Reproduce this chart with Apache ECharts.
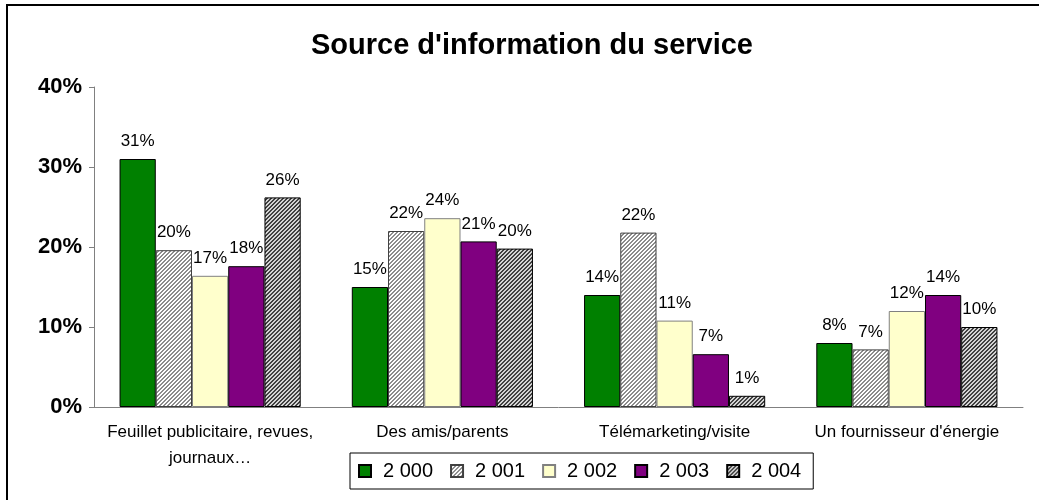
<!DOCTYPE html>
<html>
<head>
<meta charset="utf-8">
<script src="https://cdn.jsdelivr.net/npm/echarts@6/dist/echarts.min.js"></script>
<style>
  html, body { margin: 0; padding: 0; background: #fff; }
  #chart { width: 1039px; height: 500px; }
</style>
</head>
<body>
<div id="chart"></div>
<script>
// categories and values (percent)
const categories = ['Feuillet publicitaire, revues,\njournaux…', 'Des amis/parents', 'Télémarketing/visite', "Un fournisseur d'énergie"]
const years = ['2 000', '2 001', '2 002', '2 003', '2 004']
const v2000 = [31, 15, 14, 8]
const v2001 = [19.6, 22, 21.8, 7.2]
const v2002 = [16.4, 23.6, 10.8, 12]
const v2003 = [17.6, 20.7, 6.6, 14]
const v2004 = [26.2, 19.8, 1.4, 10]
const labels2000 = ['31%', '15%', '14%', '8%']
const labels2001 = ['20%', '22%', '22%', '7%']
const labels2002 = ['17%', '24%', '11%', '12%']
const labels2003 = ['18%', '21%', '7%', '14%']
const labels2004 = ['26%', '20%', '1%', '10%']
const yTicks = [0, 10, 20, 30, 40]

// diagonal hatch, like the excel fill patterns
function hatch(bg, fg) {
  const c = document.createElement('canvas')
  c.width = 4
  c.height = 4
  const ctx = c.getContext('2d')
  ctx.fillStyle = bg
  ctx.fillRect(0, 0, 4, 4)
  ctx.fillStyle = fg
  for (let y = 0; y < 4; y++) {
    for (let x = 0; x < 4; x++) {
      if ((x + y) % 4 < 2) ctx.fillRect(x, y, 1, 1)
    }
  }
  return { image: c, repeat: 'repeat' }
}

const fills = ['#008000', hatch('#ffffff', '#8c8c8c'), '#ffffcc', '#800080', hatch('#d4d4d4', '#404040')]
const borders = ['#000', '#404040', '#808080', '#000', '#000']
const values = [v2000, v2001, v2002, v2003, v2004]
const texts = [labels2000, labels2001, labels2002, labels2003, labels2004]

const chart = echarts.init(document.getElementById('chart'))

const seriesArr = years.map((name, i) => {
  return {
    name: name,
    type: 'bar',
    data: values[i],
    barGap: '0%',
    barCategoryGap: '22%',
    itemStyle: { color: fills[i], borderColor: borders[i], borderWidth: 1 },
    label: {
      show: true,
      position: 'top',
      distance: 9,
      color: '#000',
      fontFamily: 'Liberation Sans',
      fontSize: 17,
      formatter: (p) => texts[i][p.dataIndex]
    }
  }
})

chart.setOption({
  animation: false,
  backgroundColor: '#fff',
  title: {
    text: "Source d'information du service",
    left: 527,
    top: 26,
    textAlign: 'center',
    textStyle: { fontFamily: 'Liberation Sans', fontSize: 29, fontWeight: 'bold', color: '#000' }
  },
  grid: { left: 94, right: 16, top: 87, bottom: 93, containLabel: false },
  legend: {
    data: years,
    left: 350,
    top: 453,
    itemWidth: 12,
    itemHeight: 12,
    itemGap: 17,
    padding: [8, 12, 8, 8],
    borderColor: '#000',
    borderWidth: 1,
    icon: 'rect',
    textStyle: { fontFamily: 'Liberation Sans', fontSize: 20, color: '#000', padding: [0, 0, 0, 7] }
  },
  xAxis: {
    type: 'category',
    data: categories,
    axisLine: { lineStyle: { color: '#808080' } },
    axisTick: { show: false },
    axisLabel: { interval: 0, fontFamily: 'Liberation Sans', fontSize: 17, color: '#000', margin: 12, lineHeight: 26 }
  },
  yAxis: {
    type: 'value',
    min: yTicks[0],
    max: yTicks[yTicks.length - 1],
    interval: 10,
    splitLine: { show: false },
    axisLine: { show: true, lineStyle: { color: '#808080' } },
    axisTick: { show: true, length: 5, lineStyle: { color: '#808080' } },
    axisLabel: { formatter: '{value}%', fontFamily: 'Liberation Sans', fontSize: 22, fontWeight: 'bold', color: '#000', margin: 12 }
  },
  graphic: [
    { type: 'rect', shape: { x: 7, y: 5, width: 1100, height: 600 }, style: { fill: 'none', stroke: '#000', lineWidth: 2 }, silent: true }
  ],
  series: seriesArr
})
</script>
</body>
</html>
